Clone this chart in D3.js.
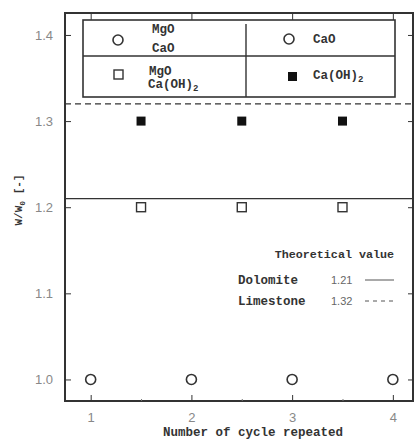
<!DOCTYPE html>
<html>
<head>
<meta charset="utf-8">
<script src="https://cdn.jsdelivr.net/npm/d3@7"></script>
<style>
  html, body { margin: 0; padding: 0; background: #fff; }
  svg { display: block; }
  .lbl { font-family: "Liberation Mono", "Courier New", monospace; font-weight: bold; fill: #333; font-size: 12.5px; }
  .tick text { font-family: "Liberation Sans", Arial, sans-serif; fill: #888; font-size: 13px; }
</style>
</head>
<body>
<div id="chart"></div>
<script>
// cycle numbers and measured W/W0 values
const cycles = [1, 2, 3, 4];
const mgoCaO = [1.0, 1.0, 1.0, 1.0];
const halfCycles = [1.5, 2.5, 3.5];
const mgoCaOH2 = [1.2, 1.2, 1.2];
const caOH2 = [1.3, 1.3, 1.3];
// theoretical values
const theoNames = ["Dolomite", "Limestone"];
const theoValues = [1.21, 1.32];
const yTicks = [1.0, 1.1, 1.2, 1.3, 1.4];
const xTicks = [1, 2, 3, 4];
const xMinor = [1.5, 2.5, 3.5];

const width = 414, height = 439;
const m = { top: 13, right: 1, bottom: 38, left: 65 };
const ink = "#333";

const svg = d3.select("#chart").append("svg")
  .attr("width", width).attr("height", height);

const x = d3.scaleLinear().domain([0.745, 4.2]).range([m.left, width - m.right]);
const y = d3.scaleLinear().domain([0.975, 1.4255]).range([height - m.bottom, m.top]);

// frame
svg.append("rect")
  .attr("x", m.left).attr("y", m.top)
  .attr("width", width - m.right - m.left)
  .attr("height", height - m.bottom - m.top)
  .attr("fill", "none").attr("stroke", ink).attr("stroke-width", 2);

// axes (ticks inward)
svg.append("g")
  .attr("transform", `translate(${m.left},0)`)
  .call(d3.axisLeft(y).tickValues(yTicks).tickFormat(d3.format(".1f")).tickSize(-6).tickPadding(12))
  .call((g) => g.select(".domain").remove())
  .call((g) => g.selectAll("line").attr("stroke", ink));

svg.append("g")
  .attr("transform", `translate(${width - m.right},0)`)
  .call(d3.axisRight(y).tickValues(yTicks).tickFormat("").tickSize(-5))
  .call((g) => g.select(".domain").remove())
  .call((g) => g.selectAll("line").attr("stroke", ink));

svg.append("g")
  .attr("transform", `translate(0,${height - m.bottom})`)
  .call(d3.axisBottom(x).tickValues(xTicks).tickFormat(d3.format("d")).tickSize(-6).tickPadding(12))
  .call((g) => g.select(".domain").remove())
  .call((g) => g.selectAll("line").attr("stroke", ink));

svg.append("g")
  .attr("transform", `translate(0,${height - m.bottom})`)
  .call(d3.axisBottom(x).tickValues(xMinor).tickFormat("").tickSize(-2))
  .call((g) => g.select(".domain").remove())
  .call((g) => g.selectAll("line").attr("stroke", "#777"));

svg.append("g")
  .attr("transform", `translate(0,${m.top})`)
  .call(d3.axisTop(x).tickValues(xTicks).tickFormat("").tickSize(-7))
  .call((g) => g.select(".domain").remove())
  .call((g) => g.selectAll("line").attr("stroke", ink));

// theoretical lines
theoValues.forEach((v, i) => {
  svg.append("line")
    .attr("x1", m.left).attr("x2", width - m.right)
    .attr("y1", y(v)).attr("y2", y(v))
    .attr("stroke", ink).attr("stroke-width", 1.3)
    .attr("stroke-dasharray", i === 1 ? "6,4" : null);
});

// data markers
svg.append("g").selectAll("circle").data(cycles).join("circle")
  .attr("cx", (d) => x(d)).attr("cy", (d, i) => y(mgoCaO[i]))
  .attr("r", 5).attr("fill", "#fff").attr("stroke", ink).attr("stroke-width", 1.6);

svg.append("g").selectAll("rect").data(halfCycles).join("rect")
  .attr("x", (d) => x(d) - 4.5).attr("y", (d, i) => y(mgoCaOH2[i]) - 4.5)
  .attr("width", 9).attr("height", 9)
  .attr("fill", "#fff").attr("stroke", ink).attr("stroke-width", 1.4);

svg.append("g").selectAll("rect").data(halfCycles).join("rect")
  .attr("x", (d) => x(d) - 4.5).attr("y", (d, i) => y(caOH2[i]) - 4.5)
  .attr("width", 9).attr("height", 9)
  .attr("fill", "#111");

// legend table
const lg = svg.append("g");
const L = { x0: 83, x1: 395, y0: 20, y1: 97, ym: 56, xm: 246 };
lg.append("rect")
  .attr("x", L.x0).attr("y", L.y0).attr("width", L.x1 - L.x0).attr("height", L.y1 - L.y0)
  .attr("fill", "#fff").attr("stroke", ink).attr("stroke-width", 1.6);
lg.append("line").attr("x1", L.x0).attr("x2", L.x1).attr("y1", L.ym).attr("y2", L.ym)
  .attr("stroke", ink).attr("stroke-width", 1.4);
lg.append("line").attr("x1", L.xm).attr("x2", L.xm).attr("y1", L.y0 + 4).attr("y2", L.y1)
  .attr("stroke", ink).attr("stroke-width", 1.4);

lg.append("circle").attr("cx", 118).attr("cy", 40).attr("r", 5)
  .attr("fill", "#fff").attr("stroke", ink).attr("stroke-width", 1.6);
lg.append("text").attr("class", "lbl").attr("x", 152).attr("y", 33).text("MgO");
lg.append("text").attr("class", "lbl").attr("x", 152).attr("y", 52).text("CaO");

lg.append("circle").attr("cx", 289).attr("cy", 39).attr("r", 5)
  .attr("fill", "#fff").attr("stroke", ink).attr("stroke-width", 1.6);
lg.append("text").attr("class", "lbl").attr("x", 313).attr("y", 43).text("CaO");

lg.append("rect").attr("x", 114).attr("y", 70).attr("width", 9).attr("height", 9)
  .attr("fill", "#fff").attr("stroke", ink).attr("stroke-width", 1.4);
lg.append("text").attr("class", "lbl").attr("x", 149).attr("y", 75).text("MgO");
const t2 = lg.append("text").attr("class", "lbl").attr("x", 148).attr("y", 88);
t2.append("tspan").text("Ca(OH)");
t2.append("tspan").attr("dy", 3).style("font-size", "9px").text("2");

lg.append("rect").attr("x", 288).attr("y", 72).attr("width", 9).attr("height", 9).attr("fill", "#111");
const t3 = lg.append("text").attr("class", "lbl").attr("x", 313).attr("y", 79);
t3.append("tspan").text("Ca(OH)");
t3.append("tspan").attr("dy", 3).style("font-size", "9px").text("2");

// theoretical value note
svg.append("text").attr("class", "lbl").attr("x", 394).attr("y", 258)
  .attr("text-anchor", "end").style("font-size", "11.7px").text("Theoretical value");
theoNames.forEach((name, i) => {
  const ty = 284 + i * 21;
  svg.append("text").attr("class", "lbl").attr("x", 238).attr("y", ty).text(name);
  svg.append("text").attr("x", 331).attr("y", ty)
    .style("font-family", "Liberation Sans, sans-serif")
    .style("fill", "#666").style("font-size", "11px").text(d3.format(".2f")(theoValues[i]));
  svg.append("line").attr("x1", 365).attr("x2", 394).attr("y1", ty - 4).attr("y2", ty - 4)
    .attr("stroke", "#555").attr("stroke-width", 1)
    .attr("stroke-dasharray", i === 1 ? "4,4" : null);
});

// axis titles
svg.append("text").attr("class", "lbl")
  .attr("x", 253).attr("y", 436).attr("text-anchor", "middle")
  .text("Number of cycle repeated");

const yl = svg.append("text").attr("class", "lbl")
  .attr("transform", "translate(22,200) rotate(-90)")
  .attr("text-anchor", "middle").style("font-size", "11px");
yl.append("tspan").text("W/W");
yl.append("tspan").attr("dy", 3).style("font-size", "8px").text("0");
yl.append("tspan").attr("dy", -3).text(" [-]");
</script>
</body>
</html>
